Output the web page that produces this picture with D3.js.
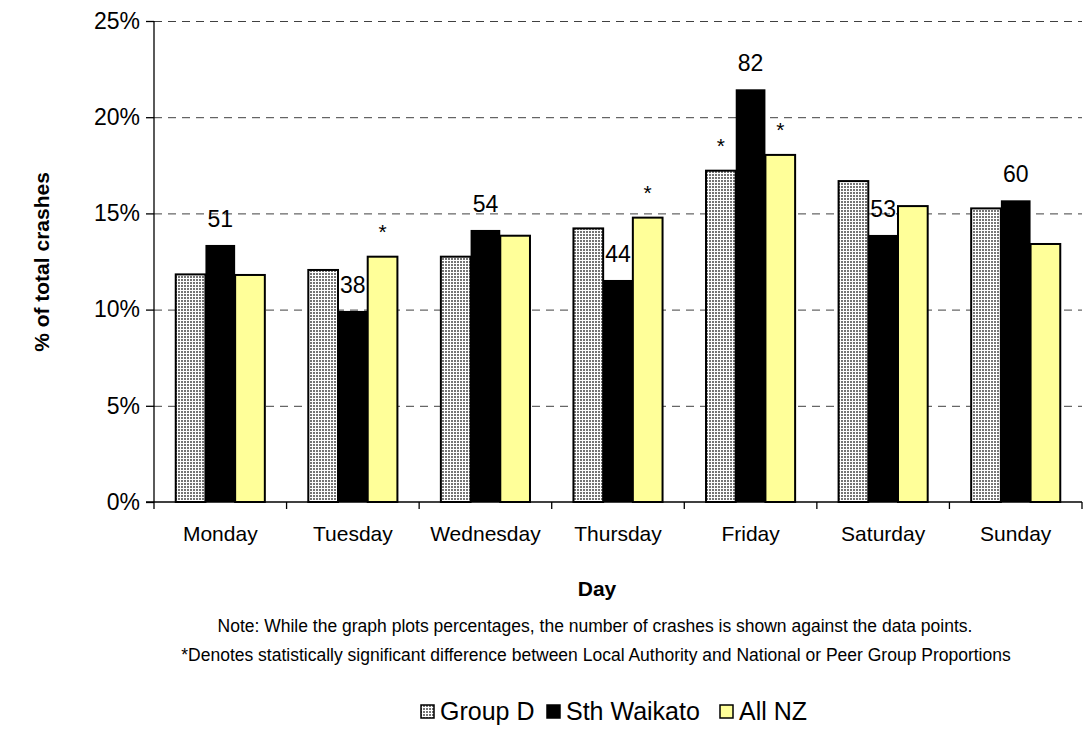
<!DOCTYPE html>
<html>
<head>
<meta charset="utf-8">
<script src="https://cdn.jsdelivr.net/npm/d3@7"></script>
<style>
  body { margin: 0; background: #fff; }
  svg text { font-family: Arial, "Liberation Sans", sans-serif; fill: #000; }
</style>
</head>
<body>
<div id="chart"></div>
<script>
// data
var days = ["Monday", "Tuesday", "Wednesday", "Thursday", "Friday", "Saturday", "Sunday"]
var groupD = [11.83, 12.06, 12.75, 14.22, 17.22, 16.68, 15.26]
var sthWaikato = [13.36, 9.93, 14.14, 11.54, 21.45, 13.88, 15.68]
var allNZ = [11.8, 12.75, 13.84, 14.78, 18.04, 15.38, 13.41]
var counts = [51, 38, 54, 44, 82, 53, 60]
// significance stars: [day index, series index]
var stars = [[1, 2], [3, 2], [4, 0], [4, 2]]
var seriesNames = ["Group D", "Sth Waikato", "All NZ"]
var yTicks = [0, 5, 10, 15, 20, 25]

var W = 1083, H = 751
var margin = {left: 154, right: 1, top: 21, bottom: 249}
var plotW = W - margin.left - margin.right
var plotH = H - margin.top - margin.bottom

var svg = d3.select("#chart").append("svg")
    .attr("width", W).attr("height", H)

// dotted fill for Group D
var defs = svg.append("defs")
var pat = defs.append("pattern").attr("id", "dots")
    .attr("width", 3).attr("height", 3)
    .attr("patternUnits", "userSpaceOnUse")
pat.append("rect").attr("width", 3).attr("height", 3).attr("fill", "#fff")
pat.append("rect").attr("x", 0).attr("y", 0).attr("width", 2).attr("height", 2).attr("fill", "#8c8c8c")
pat.append("rect").attr("x", 0.5).attr("y", 0.5).attr("width", 1).attr("height", 1).attr("fill", "#333")

var g = svg.append("g").attr("transform", "translate(" + margin.left + "," + margin.top + ")")

var x = d3.scaleBand().domain(days).range([0, plotW])
var y = d3.scaleLinear().domain([0, 25]).range([plotH, 0])
var barW = 29.7
var sub = d3.scaleBand().domain([0, 1, 2]).range([0, barW * 3])
var groupOffset = (x.bandwidth() - barW * 3) / 2

// gridlines
g.selectAll("line.grid").data(yTicks.filter(function(d) { return d > 0 }))
  .enter().append("line")
    .attr("class", "grid")
    .attr("x1", 0).attr("x2", plotW)
    .attr("y1", function(d) { return y(d) + 0.5 })
    .attr("y2", function(d) { return y(d) + 0.5 })
    .attr("stroke", "#404040").attr("stroke-width", 1)
    .attr("stroke-dasharray", "8,6")

var fills = ["url(#dots)", "#000", "#ffff99"]
var series = [groupD, sthWaikato, allNZ]

days.forEach(function(day, i) {
  var gx = x(day) + groupOffset
  series.forEach(function(vals, s) {
    g.append("rect")
      .attr("x", gx + sub(s))
      .attr("y", y(vals[i]))
      .attr("width", sub.bandwidth())
      .attr("height", plotH - y(vals[i]))
      .attr("fill", fills[s])
      .attr("stroke", "#000")
      .attr("stroke-width", s === 1 ? 0 : 2)
  })
  g.append("text")
    .attr("x", gx + sub(1) + sub.bandwidth() / 2)
    .attr("y", y(sthWaikato[i]) - 18)
    .attr("text-anchor", "middle")
    .style("font-size", "23px")
    .text(counts[i])
})

stars.forEach(function(st) {
  var vals = series[st[1]]
  g.append("text")
    .attr("x", x(days[st[0]]) + groupOffset + sub(st[1]) + sub.bandwidth() / 2)
    .attr("y", y(vals[st[0]]) - 18)
    .attr("text-anchor", "middle")
    .style("font-size", "21px")
    .text("*")
})

// axes
var yAxis = g.append("g").call(d3.axisLeft(y).tickValues(yTicks)
    .tickFormat(function(d) { return d + "%" }).tickSize(8).tickPadding(6))
yAxis.select(".domain").attr("stroke-width", 1.3).attr("d", "M0,0V" + plotH)
yAxis.selectAll(".tick line").attr("stroke-width", 1.3)
yAxis.selectAll("text").style("font-size", "23px")

var xAxis = g.append("g").attr("transform", "translate(0," + plotH + ")")
xAxis.append("line").attr("x1", -8).attr("x2", plotW).attr("stroke", "#000").attr("stroke-width", 1.3)
xAxis.selectAll("line.tk").data(d3.range(days.length + 1)).enter().append("line")
    .attr("x1", function(d) { return d * x.step() })
    .attr("x2", function(d) { return d * x.step() })
    .attr("y1", 0).attr("y2", 7).attr("stroke", "#000").attr("stroke-width", 1.3)
xAxis.selectAll("text.day").data(days).enter().append("text")
    .attr("x", function(d) { return x(d) + x.bandwidth() / 2 })
    .attr("y", 39)
    .attr("text-anchor", "middle")
    .style("font-size", "21px")
    .text(function(d) { return d })

// titles
svg.append("text").attr("x", 597).attr("y", 596).attr("text-anchor", "middle")
    .style("font-size", "21px").style("font-weight", "bold").text("Day")
svg.append("text").attr("transform", "translate(49,262) rotate(-90)")
    .attr("text-anchor", "middle")
    .style("font-size", "21px").style("font-weight", "bold").text("% of total crashes")
svg.append("text").attr("x", 595).attr("y", 632).attr("text-anchor", "middle")
    .style("font-size", "17.5px").text("Note: While the graph plots percentages, the number of crashes is shown against the data points.")
svg.append("text").attr("x", 596).attr("y", 661).attr("text-anchor", "middle")
    .style("font-size", "17.5px").text("*Denotes statistically significant difference between Local Authority and National or Peer Group Proportions")

// legend
var legendX = [421, 547, 720]
var leg = svg.append("g")
seriesNames.forEach(function(name, s) {
  leg.append("rect")
    .attr("x", legendX[s]).attr("y", 705)
    .attr("width", 13).attr("height", 13)
    .attr("fill", fills[s]).attr("stroke", "#000").attr("stroke-width", 1.5)
  leg.append("text")
    .attr("x", legendX[s] + 19).attr("y", 720)
    .style("font-size", "25px")
    .text(name)
})
</script>
</body>
</html>
